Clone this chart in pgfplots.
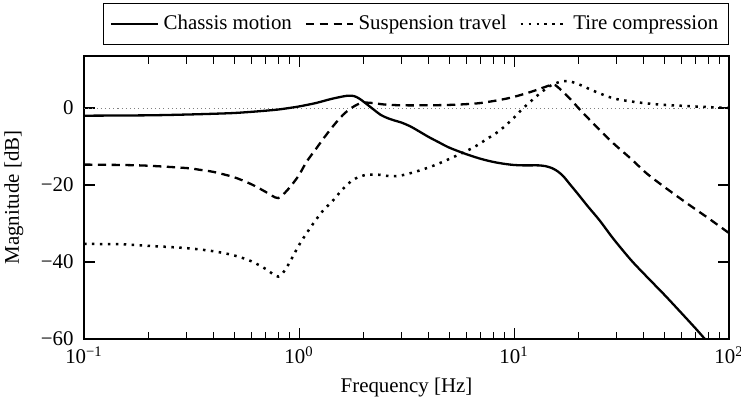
\documentclass[border=0pt]{standalone}
\usepackage{fontspec}
\setmainfont{Liberation Serif}
\usepackage{pgfplots}
\pgfplotsset{compat=1.18}
\begin{document}
\begin{tikzpicture}
\begin{axis}[
  scale only axis,
  width=308.6pt, height=135.4pt,
  xmode=log,
  xmin=0.1, xmax=100,
  ymin=-60, ymax=13.5,
  xtick={0.1,1,10,100},
  xticklabels={10\textsuperscript{−1},10\textsuperscript{0},10\textsuperscript{1},10\textsuperscript{2}},
  ytick={-60,-40,-20,0},
  yticklabels={−60,−40,−20,0},
  major tick length=5.2pt,
  minor tick length=3.6pt,
  tick style={black, line width=0.5pt},
  axis line style={line width=0.6pt},
  xlabel={Frequency [Hz]},
  ylabel={Magnitude [dB]},
  label style={font=\normalsize},
  tick label style={font=\normalsize},
  yticklabel style={xshift=-1.5pt},
  ylabel style={xshift=0pt, yshift=1.5pt},
  legend columns=3,
  legend style={at={(1,1)}, anchor=south east, yshift=5.3pt, draw=black,
    font=\normalsize, inner ysep=3.6pt, /tikz/every even column/.append style={column sep=4pt}},
  legend image code/.code={\draw[#1] (0cm,0cm) -- (0.79cm,0cm);},
  legend image post style={line width=1.4pt},
]
\addplot[gray, line width=0.4pt, dash pattern=on 0.5pt off 1.5pt, forget plot] coordinates {(0.1,0) (100,0)};
\addplot[black, line width=1.1pt, smooth, tension=0.5] coordinates {
(0.1,-2.0) (0.2,-1.9) (0.3,-1.7) (0.4,-1.5) (0.5,-1.3) (0.6,-1.0) (0.7,-0.7) (0.8,-0.4) (0.9,0.0)
(1.0,0.4) (1.2,1.3) (1.4,2.3) (1.6,3.0) (1.7,3.2) (1.8,3.1) (1.9,2.5) (2.0,1.6) (2.2,-0.2) (2.4,-1.8)
(2.6,-2.7) (2.8,-3.3) (3.0,-3.8) (3.3,-4.8) (3.6,-6.0) (4.0,-7.5) (4.5,-9.0) (5.0,-10.3) (6.0,-12.0)
(7.0,-13.2) (8.0,-14.0) (9.0,-14.5) (10,-14.8) (11,-14.9) (12,-14.9) (13,-14.9) (14,-15.1) (15,-15.6)
(16,-16.5) (17,-17.8) (18,-19.5) (20,-22.6) (22,-25.5) (25,-29.2) (29,-34.0) (35,-39.5) (41.4,-43.8)
(50,-48.5) (59,-52.8) (70,-57.3) (78,-60.3)
};
\addlegendentry{Chassis motion}
\addplot[black, line width=1.1pt, dash pattern=on 4pt off 2.6pt, smooth, tension=0.5] coordinates {
(0.1,-14.7) (0.15,-14.8) (0.2,-15.0) (0.3,-15.6) (0.35,-16.1) (0.4,-16.6) (0.5,-18.0) (0.6,-19.8)
(0.7,-21.8) (0.75,-22.8) (0.8,-23.4) (0.86,-22.0) (0.93,-19.8) (1.0,-17.4) (1.086,-13.9) (1.2,-10.6)
(1.3,-7.9) (1.45,-4.5) (1.6,-1.8) (1.75,0.0) (1.9,1.1) (2.0,1.4) (2.2,1.3) (2.5,0.9) (3.0,0.7)
(4.0,0.7) (5.0,0.8) (6.0,1.0) (7.0,1.3) (8.6,2.1) (10,2.9) (12,4.2) (14,5.5) (15.2,6.1) (16,5.4)
(18,2.7) (20.3,-0.5) (24,-4.7) (29,-9.2) (35,-13.2) (41.4,-17.0) (50,-20.5) (63.5,-24.7) (80,-28.6)
(100,-32.5)
};
\addlegendentry{Suspension travel}
\addplot[black, line width=1.2pt, dash pattern=on 1.2pt off 2.6pt, smooth, tension=0.5] coordinates {
(0.1,-35.3) (0.15,-35.4) (0.2,-35.8) (0.3,-36.4) (0.4,-37.2) (0.5,-38.3) (0.6,-39.8) (0.7,-41.8)
(0.75,-43.0) (0.8,-43.8) (0.85,-42.5) (0.9,-40.3) (1.0,-35.6) (1.1,-32.0) (1.2,-29.0) (1.3,-26.5)
(1.44,-24.0) (1.6,-21.0) (1.78,-18.7) (2.0,-17.5) (2.3,-17.3) (2.65,-17.7) (3.0,-17.5) (3.65,-16.2)
(4.3,-14.8) (5.2,-12.8) (6.45,-10.3) (7.5,-8.0) (8.6,-5.8) (10,-2.5) (11,-0.1) (13.2,3.8) (15,6.0)
(17,7.0) (18.5,6.8) (20.3,6.0) (24,4.2) (29,2.5) (35,1.7) (41.4,1.2) (50,0.8) (59,0.6) (75,0.3) (100,0.0)
};
\addlegendentry{Tire compression}
\end{axis}
\pgfresetboundingbox
\path[use as bounding box] ([shift={(-40.2pt,-30.1pt)}]current axis.south west) rectangle ([shift={(5.7pt,26.8pt)}]current axis.north east);
\end{tikzpicture}
\end{document}
